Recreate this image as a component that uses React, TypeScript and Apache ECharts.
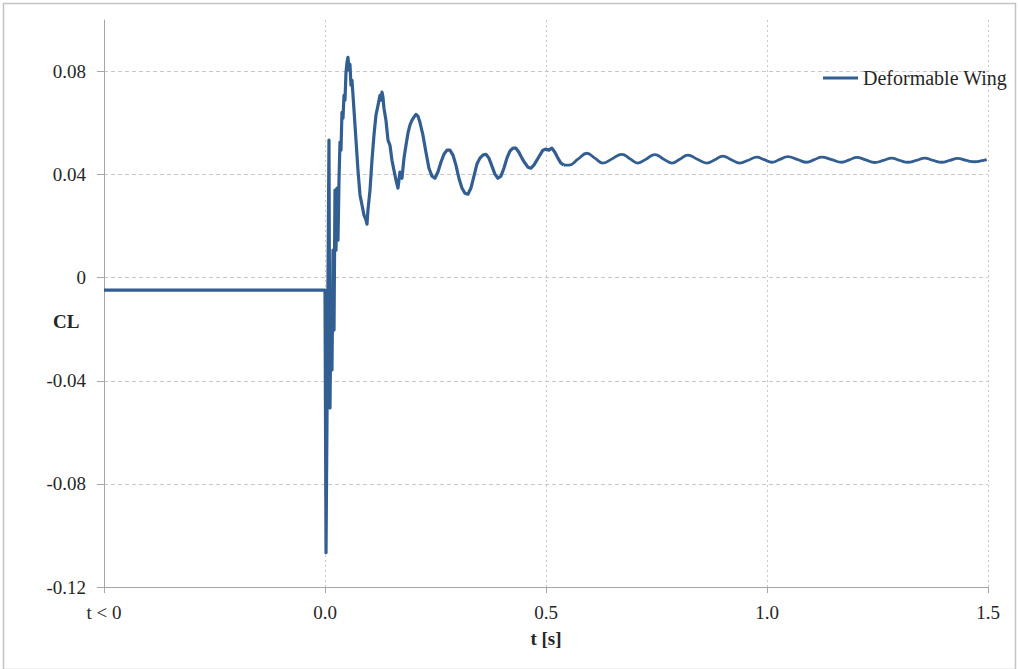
import React, { useEffect, useRef } from 'react';
import * as echarts from 'echarts';

const SERIES_NAME = 'Deformable Wing';
const X_TICK_VALUES = [-0.5, 0, 0.5, 1.0, 1.5];
const X_TICK_LABELS = ['t < 0', '0.0', '0.5', '1.0', '1.5'];
const Y_TICKS = [-0.12, -0.08, -0.04, 0, 0.04, 0.08];

// Pre-release level, release spike and the noisy, decaying start of the response
const transientT = [
  -0.5, 0, 0.0023, 0.0045, 0.009, 0.0102, 0.0113, 0.0136, 0.0158, 0.0181,
  0.0204, 0.0226, 0.0249, 0.0271, 0.0294, 0.0317, 0.0339, 0.0362, 0.0384, 0.0407,
  0.043, 0.0452, 0.0475, 0.0498, 0.052, 0.0543, 0.0565, 0.0588, 0.0611, 0.0656,
  0.0701, 0.0746, 0.0792, 0.0837, 0.0882, 0.0927, 0.095, 0.0972, 0.1018, 0.1063,
  0.1108, 0.1153, 0.1199, 0.1244, 0.1266, 0.1289, 0.1312, 0.1334, 0.1379, 0.1425,
  0.147, 0.1515, 0.156, 0.1606, 0.1651, 0.1696, 0.1741, 0.1787, 0.1832, 0.1877,
  0.1922, 0.1967, 0.2013, 0.2058, 0.2103, 0.2148, 0.2216, 0.2284, 0.2352, 0.242,
  0.2488, 0.2555, 0.2623, 0.2691, 0.2759, 0.2827, 0.2895, 0.2962, 0.303, 0.3098,
  0.3166, 0.3234, 0.3302, 0.337, 0.3437, 0.3505, 0.3573, 0.3641, 0.3709, 0.3777,
  0.3844, 0.3912, 0.398, 0.4048, 0.4116, 0.4184, 0.4251, 0.4319, 0.4387, 0.4455,
  0.4523, 0.4591, 0.4659, 0.4726, 0.4794, 0.4862, 0.493, 0.4998, 0.5066, 0.5133,
  0.5201, 0.5269, 0.5337, 0.5405,
];
const transientCL = [
  -0.0048, -0.0048, -0.1067, -0.0552, 0.0534, -0.0086, -0.0505, -0.0086, -0.0358, 0.0107,
  -0.0203, 0.034, 0.0107, 0.0348, 0.0146, 0.0379, 0.0526, 0.0495, 0.0642, 0.0619,
  0.0708, 0.0689, 0.0797, 0.0836, 0.0855, 0.0805, 0.0828, 0.0747, 0.0766, 0.065,
  0.0534, 0.0417, 0.0321, 0.0282, 0.0243, 0.0224, 0.0208, 0.0262, 0.034, 0.0456,
  0.0553, 0.0631, 0.0669, 0.0708, 0.0689, 0.072, 0.07, 0.0658, 0.0611, 0.0534,
  0.0514, 0.0456, 0.0417, 0.0379, 0.0348, 0.041, 0.0386, 0.0464, 0.0514, 0.0561,
  0.0592, 0.0611, 0.0623, 0.0634, 0.0627, 0.0603, 0.0553, 0.0487, 0.0425, 0.0394,
  0.0386, 0.041, 0.0448, 0.0479, 0.0495, 0.0495, 0.0476, 0.0437, 0.0386, 0.0348,
  0.0328, 0.0324, 0.0348, 0.0394, 0.0441, 0.0464, 0.0476, 0.0479, 0.0464, 0.0433,
  0.0402, 0.0386, 0.0394, 0.0425, 0.0464, 0.0491, 0.0503, 0.0503, 0.0487, 0.0464,
  0.0445, 0.0429, 0.0425, 0.0437, 0.0456, 0.0476, 0.0495, 0.0499, 0.0495, 0.0503,
  0.0487, 0.0464, 0.0445, 0.0437,
];

// Settled, lightly damped oscillation
const settledT = [
  0.5518, 0.5722, 0.5925, 0.6106, 0.6287, 0.6502, 0.6716, 0.6897, 0.7078, 0.7271,
  0.7463, 0.7655, 0.7847, 0.8028, 0.8209, 0.8424, 0.8639, 0.882, 0.9001, 0.9193,
  0.9385, 0.9577, 0.9769, 0.9939, 1.0109, 1.029, 1.0471, 1.0685, 1.09, 1.107,
  1.124, 1.1465, 1.1691, 1.1861, 1.2031, 1.2234, 1.2438, 1.263, 1.2822, 1.3003,
  1.3184, 1.3376, 1.3569, 1.376, 1.3953, 1.4134, 1.4315, 1.4507, 1.4699, 1.4835,
  1.4971,
];
const settledCL = [
  0.0437, 0.046, 0.0483, 0.0464, 0.0445, 0.0462, 0.0479, 0.0462, 0.0445, 0.0461,
  0.0478, 0.0461, 0.0445, 0.046, 0.0476, 0.046, 0.0445, 0.0458, 0.0472, 0.0458,
  0.0445, 0.0456, 0.0468, 0.0458, 0.0448, 0.0459, 0.047, 0.0459, 0.0448, 0.0458,
  0.0468, 0.0458, 0.0448, 0.0457, 0.0467, 0.0457, 0.0447, 0.0455, 0.0464, 0.0455,
  0.0448, 0.0455, 0.0464, 0.0455, 0.0448, 0.0455, 0.0463, 0.0455, 0.045, 0.0453,
  0.0458,
];

const LINE_COLOR = '#335e91';
const TEXT_COLOR = '#262626';
const FONT = '"Liberation Serif", "Times New Roman", serif';

export default function App() {
  const ref = useRef<HTMLDivElement>(null);

  useEffect(() => {
    if (!ref.current) return;
    const chart = echarts.init(ref.current, undefined, { renderer: 'svg' });

    const transientData = transientT.map((t, i) => [t, transientCL[i]]);
    const lastTransient = transientData[transientData.length - 1];
    const settledData = [lastTransient, ...settledT.map((t, i) => [t, settledCL[i]])];

    chart.setOption({
      animation: false,
      backgroundColor: '#ffffff',
      textStyle: { fontFamily: FONT },
      grid: { left: 104, right: 30, top: 20, bottom: 82, containLabel: false },
      legend: {
        data: [SERIES_NAME],
        left: 818,
        top: 63,
        icon: 'rect',
        itemWidth: 35,
        itemHeight: 3,
        itemGap: 4,
        textStyle: { fontFamily: FONT, fontSize: 20, color: TEXT_COLOR },
      },
      xAxis: {
        type: 'value',
        min: -0.5,
        max: 1.5,
        interval: 0.5,
        name: 't [s]',
        nameLocation: 'middle',
        nameGap: 42,
        nameTextStyle: { fontFamily: FONT, fontSize: 19, fontWeight: 'bold', color: TEXT_COLOR },
        axisLine: { show: true, onZero: false, lineStyle: { color: '#a6a6a6', width: 1 } },
        axisTick: { show: true, length: 6, lineStyle: { color: '#a6a6a6' } },
        axisLabel: {
          margin: 16,
          fontFamily: FONT,
          fontSize: 19,
          color: TEXT_COLOR,
          formatter: (v: number) => {
            const i = X_TICK_VALUES.findIndex((x) => Math.abs(x - v) < 1e-9);
            return i >= 0 ? X_TICK_LABELS[i] : '';
          },
        },
        splitLine: {
          show: true,
          showMinLine: false,
          lineStyle: { color: '#c8c8c8', type: [2, 3], width: 1 },
        },
      },
      yAxis: {
        type: 'value',
        min: -0.12,
        max: 0.1,
        interval: 0.04,
        axisLine: { show: true, onZero: false, lineStyle: { color: '#a6a6a6', width: 1 } },
        axisTick: { show: true, length: 7, lineStyle: { color: '#a6a6a6' } },
        axisLabel: {
          margin: 18,
          fontFamily: FONT,
          fontSize: 19,
          color: TEXT_COLOR,
          showMaxLabel: false,
          formatter: (v: number) => {
            const hit = Y_TICKS.find((y) => Math.abs(y - v) < 1e-9);
            return hit === undefined ? '' : String(Number(hit.toFixed(2)));
          },
        },
        splitLine: {
          show: true,
          showMinLine: false,
          showMaxLine: false,
          lineStyle: { color: '#c8c8c8', type: [4, 3], width: 1 },
        },
      },
      graphic: [
        {
          type: 'rect',
          left: 1,
          top: 1,
          shape: { width: 1012, height: 666 },
          style: { fill: 'none', stroke: '#c4c4c4', lineWidth: 1.5 },
          silent: true,
        },
        {
          type: 'text',
          left: 53,
          top: 312,
          style: {
            text: 'CL',
            fontFamily: FONT,
            fontSize: 19,
            fontWeight: 'bold',
            fill: TEXT_COLOR,
          },
        },
      ],
      series: [
        {
          name: SERIES_NAME,
          type: 'line',
          data: transientData,
          showSymbol: false,
          symbol: 'none',
          lineStyle: { color: LINE_COLOR, width: 3.2, join: 'round' },
          itemStyle: { color: LINE_COLOR },
        },
        {
          name: SERIES_NAME,
          type: 'line',
          data: settledData,
          showSymbol: false,
          symbol: 'none',
          smooth: 0.45,
          lineStyle: { color: LINE_COLOR, width: 2.8 },
          itemStyle: { color: LINE_COLOR },
        },
      ],
    });

    return () => chart.dispose();
  }, []);

  return (
    <div
      ref={ref}
      style={{ position: 'fixed', left: 0, top: 0, width: 1018, height: 669, background: '#fff' }}
    />
  );
}
